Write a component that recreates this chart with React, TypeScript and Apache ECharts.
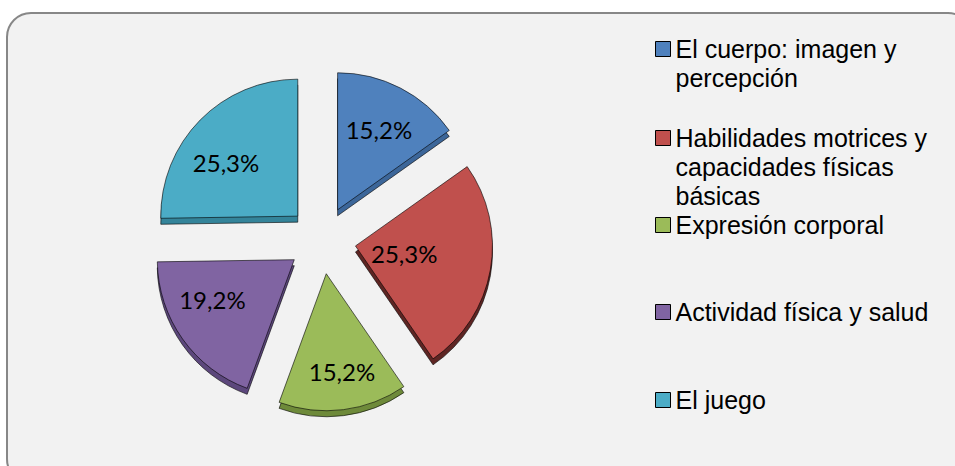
import React, { useEffect, useRef } from 'react';
import * as echarts from 'echarts';

// ---- data ----
const categories = [
  'El cuerpo: imagen y percepción',
  'Habilidades motrices y capacidades físicas básicas',
  'Expresión corporal',
  'Actividad física y salud',
  'El juego',
];
const legendLines = [
  ['El cuerpo: imagen y', 'percepción'],
  ['Habilidades motrices y', 'capacidades físicas', 'básicas'],
  ['Expresión corporal'],
  ['Actividad física y salud'],
  ['El juego'],
];
const percentages = [15.2, 25.3, 15.2, 19.2, 25.3];

// ---- styles / layout ----
const topColors = ['#4F81BD', '#C0504D', '#9BBB59', '#8064A2', '#4BACC6'];
const sideColors = ['#3C6699', '#5E2523', '#6E8A3A', '#5C477C', '#34849A'];
const labelRadiusFraction = [0.657, 0.36, 0.726, 0.663, 0.65];
const labelAngleShiftDeg = [0, -0.6, -1.4, 6.8, -5.8];
const legendIconY = [49, 138, 225, 312, 400];
const CX = 322;
const CY = 240;
const R = 137;
const EXPLODE = 34;
const DEPTH = 6;
const LH = 29;

const fmtPct = (v: number) => `${v.toFixed(1).replace('.', ',')}%`;

export default function App() {
  const ref = useRef<HTMLDivElement>(null);
  useEffect(() => {
    document.body.style.margin = '0';
    const chart = echarts.init(ref.current!, undefined, { renderer: 'svg' });
    const total = percentages.reduce((a, b) => a + b, 0);

    const labelLayout = (params: any) => {
      const i = params.dataIndex;
      let before = 0;
      for (let k = 0; k < i; k++) before += percentages[k];
      const mid =
        ((before + percentages[i] / 2) / total) * Math.PI * 2 +
        (labelAngleShiftDeg[i] * Math.PI) / 180;
      const dx = Math.sin(mid);
      const dy = -Math.cos(mid);
      const d = EXPLODE + labelRadiusFraction[i] * R;
      return { x: CX + dx * d, y: CY + dy * d, align: 'center', verticalAlign: 'middle' };
    };

    const legendFormatter = (name: string) => {
      const i = categories.indexOf(name);
      const lines = legendLines[i];
      const pad = new Array(lines.length - 1).fill('');
      return pad.concat(lines).join('\n');
    };

    const legends = categories.map((name, i) => {
      const n = legendLines[i].length;
      const H = (2 * n - 1) * LH;
      return {
        show: true,
        data: [name],
        left: 655,
        top: legendIconY[i] - H / 2,
        orient: 'vertical',
        padding: 0,
        itemWidth: 15,
        itemHeight: 15,
        itemGap: 0,
        icon: 'rect',
        selectedMode: false,
        formatter: legendFormatter,
        textStyle: {
          fontFamily: '"Liberation Sans", Arial, sans-serif',
          fontSize: 25,
          color: '#000',
          lineHeight: LH,
        },
        itemStyle: { borderColor: '#000', borderWidth: 1 },
      };
    });

    const makeData = (colors: string[], selected: boolean) =>
      categories.map((name, i) => ({
        name,
        value: percentages[i],
        selected,
        itemStyle: { color: colors[i] },
        select: { itemStyle: { color: colors[i] } },
      }));

    const pieBase = {
      type: 'pie',
      radius: R,
      startAngle: 90,
      clockwise: true,
      avoidLabelOverlap: false,
      labelLine: { show: false },
      emphasis: { disabled: true },
    };

    chart.setOption({
      animation: false,
      graphic: [
        {
          type: 'rect',
          z: 0,
          silent: true,
          shape: { x: 7, y: 13, width: 965, height: 470, r: 24 },
          style: { fill: '#f2f2f2', stroke: '#878787', lineWidth: 2 },
        },
      ],
      legend: legends,
      series: [
        {
          ...pieBase,
          name: 'top',
          z: 3,
          center: [CX, CY],
          selectedMode: 'multiple',
          selectedOffset: EXPLODE,
          data: makeData(topColors, true),
          itemStyle: { borderColor: 'rgba(0,0,0,0.75)', borderWidth: 0.8 },
          select: { itemStyle: { borderColor: 'rgba(0,0,0,0.75)', borderWidth: 0.8 } },
          label: { show: false },
        },
        {
          ...pieBase,
          name: 'side',
          z: 2,
          silent: true,
          center: [CX, CY + DEPTH],
          selectedMode: 'multiple',
          selectedOffset: EXPLODE,
          data: makeData(sideColors, true),
          itemStyle: { borderColor: 'rgba(0,0,0,0.75)', borderWidth: 0.8 },
          select: { itemStyle: { borderColor: 'rgba(0,0,0,0.75)', borderWidth: 0.8 } },
          label: { show: false },
        },
        {
          ...pieBase,
          name: 'labels',
          z: 4,
          silent: true,
          center: [CX, CY],
          selectedMode: false,
          data: makeData(categories.map(() => 'rgba(0,0,0,0)'), false),
          itemStyle: { borderWidth: 0 },
          label: {
            show: true,
            position: 'inside',
            formatter: (p: any) => fmtPct(p.value),
            fontFamily: 'Lato, "Open Sans", sans-serif',
            fontSize: 24,
            color: '#000',
          },
          labelLayout,
        },
      ],
    });
    return () => chart.dispose();
  }, []);
  return <div ref={ref} style={{ width: 955, height: 466 }} />;
}
